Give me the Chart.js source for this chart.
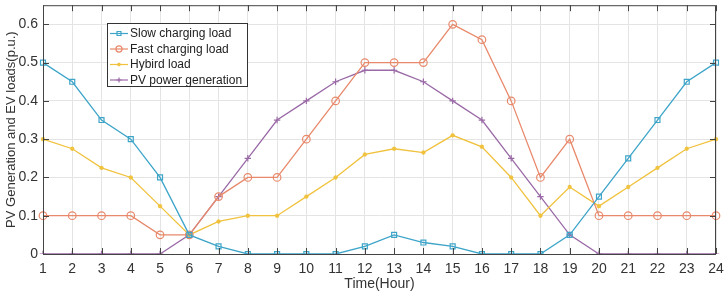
<!DOCTYPE html>
<html>
<head>
<meta charset="utf-8">
<script src="https://cdn.jsdelivr.net/npm/chart.js@4.4.1/dist/chart.umd.min.js"></script>
<style>
  html, body { margin: 0; padding: 0; background: #fff; }
  #wrap { width: 726px; height: 297px; }
</style>
</head>
<body>
<div id="wrap"><canvas id="chart" width="726" height="297"></canvas></div>
<script>
const hours = ['1','2','3','4','5','6','7','8','9','10','11','12','13','14','15','16','17','18','19','20','21','22','23','24'];
const slowLoad = [0.5, 0.45, 0.35, 0.3, 0.2, 0.05, 0.02, 0, 0, 0, 0, 0.02, 0.05, 0.03, 0.02, 0, 0, 0, 0.05, 0.15, 0.25, 0.35, 0.45, 0.5];
const fastLoad = [0.1, 0.1, 0.1, 0.1, 0.05, 0.05, 0.15, 0.2, 0.2, 0.3, 0.4, 0.5, 0.5, 0.5, 0.6, 0.56, 0.4, 0.2, 0.3, 0.1, 0.1, 0.1, 0.1, 0.1];
const hybridLoad = [0.3, 0.275, 0.225, 0.2, 0.125, 0.05, 0.085, 0.1, 0.1, 0.15, 0.2, 0.26, 0.275, 0.265, 0.31, 0.28, 0.2, 0.1, 0.175, 0.125, 0.175, 0.225, 0.275, 0.3];
const pvGen = [0, 0, 0, 0, 0, 0.05, 0.15, 0.25, 0.35, 0.4, 0.45, 0.48, 0.48, 0.45, 0.4, 0.35, 0.25, 0.15, 0.05, 0, 0, 0, 0, 0];
const yTicks = [0, 0.1, 0.2, 0.3, 0.4, 0.5, 0.6];

const FONT = '"Liberation Sans", Arial, sans-serif';

// MATLAB style box with inward ticks and a legend box
const boxPlugin = {
  id: 'box',
  afterDraw(chart) {
    const { ctx, chartArea: a, scales } = chart;
    ctx.save();
    ctx.strokeStyle = '#444';
    ctx.lineWidth = 1;
    ctx.strokeRect(a.left + 0.5, a.top + 0.5, a.right - a.left - 1, a.bottom - a.top);
    ctx.beginPath();
    hours.forEach((h, i) => {
      const x = Math.round(scales.x.getPixelForValue(i)) + 0.5;
      ctx.moveTo(x, a.bottom); ctx.lineTo(x, a.bottom - 6);
      ctx.moveTo(x, a.top); ctx.lineTo(x, a.top + 6);
    });
    yTicks.forEach(v => {
      const y = Math.round(scales.y.getPixelForValue(v)) + 0.5;
      ctx.moveTo(a.left, y); ctx.lineTo(a.left + 6, y);
      ctx.moveTo(a.right, y); ctx.lineTo(a.right - 6, y);
    });
    ctx.stroke();

    // legend
    const lx = 107, ly = 23, lw = 140, lh = 63;
    ctx.fillStyle = '#fff';
    ctx.fillRect(lx, ly, lw, lh);
    ctx.strokeStyle = '#333';
    ctx.strokeRect(lx + 0.5, ly + 0.5, lw, lh);
    ctx.font = '12px ' + FONT;
    ctx.textBaseline = 'middle';
    chart.data.datasets.forEach((ds, i) => {
      const y = ly + 10.5 + i * 15.5;
      ctx.strokeStyle = ds.borderColor;
      ctx.lineWidth = 1.2;
      ctx.beginPath();
      ctx.moveTo(lx + 3, y); ctx.lineTo(lx + 21, y);
      ctx.stroke();
      ctx.fillStyle = ds.pointBackgroundColor;
      Chart.helpers.drawPoint(ctx, {
        pointStyle: ds.pointStyle, radius: ds.pointRadius * 0.8, borderWidth: 1.2, rotation: 0
      }, lx + 12, y);
      ctx.fillStyle = '#222';
      ctx.fillText(ds.label, lx + 23, y + 0.5);
    });
    ctx.restore();
  }
};

const mk = (label, data, color, style, r) => ({
  label, data,
  borderColor: color,
  backgroundColor: style === 'star' ? color : 'rgba(0,0,0,0)',
  pointBorderColor: color,
  pointBackgroundColor: style === 'star' ? color : 'rgba(0,0,0,0)',
  pointStyle: style,
  pointRadius: r,
  pointBorderWidth: 1.2,
  borderWidth: 1.3,
  tension: 0
});

new Chart(document.getElementById('chart'), {
  type: 'line',
  data: {
    labels: hours,
    datasets: [
      mk('Slow charging load', slowLoad, '#3ea5c9', 'rect', 3.5),
      mk('Fast charging load', fastLoad, '#e8896b', 'circle', 3.8),
      mk('Hybird load', hybridLoad, '#f0c23e', 'star', 2.2),
      mk('PV power generation', pvGen, '#9a6aa6', 'cross', 3.2)
    ]
  },
  options: {
    responsive: false,
    animation: false,
    layout: { padding: { top: 3, right: 10, left: 0, bottom: 0 } },
    plugins: { legend: { display: false }, tooltip: { enabled: false } },
    scales: {
      x: {
        type: 'category',
        offset: false,
        grid: { color: '#e4e4e4', drawTicks: false },
        border: { display: false },
        ticks: { color: '#333', font: { family: FONT, size: 14 }, padding: 7, maxRotation: 0, autoSkip: false },
        title: { display: true, text: 'Time(Hour)', color: '#333', font: { family: FONT, size: 14 }, padding: { top: 0, bottom: 4 } },
        afterFit(s) { s.height = 43; s.paddingLeft = 0; s.paddingRight = 0; }
      },
      y: {
        min: 0, max: 0.65,
        grid: { color: '#e4e4e4', drawTicks: false },
        border: { display: false },
        afterBuildTicks(s) { s.ticks = yTicks.map(v => ({ value: v })); },
        ticks: { color: '#333', font: { family: FONT, size: 14 }, padding: 5, callback: v => String(v) },
        title: { display: true, text: 'PV Generation and EV loads(p.u.)', color: '#333', font: { family: FONT, size: 13 }, padding: { top: 4, bottom: 0 } },
        afterFit(s) { s.width = 43; s.paddingTop = 0; s.paddingBottom = 0; }
      }
    }
  },
  plugins: [boxPlugin]
});
</script>
</body>
</html>
